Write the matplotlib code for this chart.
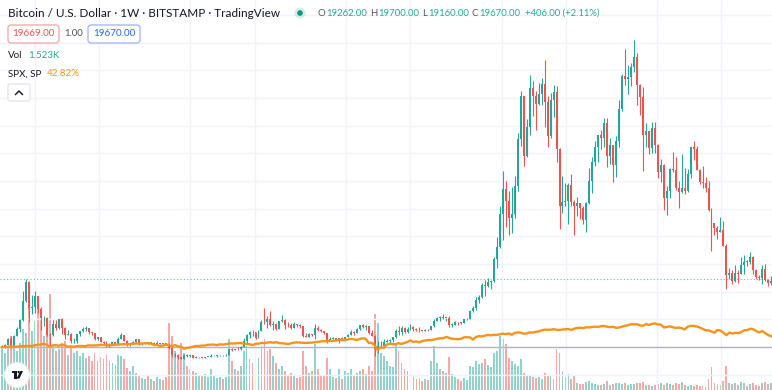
"""Weekly BTCUSD (Bitstamp) candles compared against SPX, TradingView style."""

import numpy as np
import matplotlib

matplotlib.use("Agg")
import matplotlib.pyplot as plt
import matplotlib.transforms as mtransforms
from matplotlib.lines import Line2D
from matplotlib.patches import Circle, FancyBboxPatch, Polygon

W, H = 772, 390

# weekly bars, first visible week starts Monday 2017-10-16
first_week = np.datetime64("2017-10-16")
first_open = 5680

closes = [
    5700, 6150, 7380, 5950, 8050, 9330, 11250, 15200, 19100, 13800,
    13880, 16180, 13600, 11600, 11750, 8200, 8100, 10400, 9600, 11450,
    9550, 8200, 8450, 6850, 7000, 8350, 8900, 9400, 9650, 8700,
    8500, 7350, 7700, 6750, 6450, 6150, 6350, 6700, 6350, 7400,
    8200, 7000, 6300, 6400, 6700, 7250, 6250, 6500, 6700, 6600,
    6600, 6300, 6400, 6450, 6400, 6350, 5550, 4000, 4150, 3600,
    3250, 3950, 3850, 4050, 3500, 3550, 3550, 3420, 3650, 3700,
    3800, 3800, 3950, 4000, 3980, 4100, 5200, 5050, 5300, 5200,
    5750, 7000, 8200, 8750, 8730, 7650, 8950, 10800, 10750, 11400,
    10200, 10500, 9500, 11000, 11300, 10300, 10150, 9600, 10400, 10300,
    10000, 8050, 7850, 8300, 8200, 9550, 9200, 9030, 8500, 6900,
    7400, 7500, 7100, 7500, 7400, 7750, 8150, 8700, 8600, 9350,
    10150, 9900, 9950, 8550, 8050, 5350, 5850, 5900, 6800, 6900,
    7100, 7700, 8900, 8750, 9700, 8700, 9450, 9750, 9350, 9300,
    9100, 9050, 9250, 9150, 9950, 11050, 11650, 11900, 11650, 11700,
    10250, 10300, 10900, 10750, 10650, 11400, 11500, 13050, 13750, 15450,
    15950, 18400, 18200, 19150, 19250, 23900, 26300, 33000, 38150, 35800,
    32300, 33100, 38900, 48600, 57400, 45150, 50950, 59000, 57400, 55800,
    57900, 59900, 56250, 49100, 56600, 58250, 46400, 34700, 35600, 35800,
    39100, 35500, 34700, 35300, 34250, 31800, 35400, 39850, 43800, 47000,
    49300, 48800, 51800, 45100, 47300, 43200, 48200, 54700, 61500, 60900,
    61300, 63300, 65500, 59700, 57300, 49400, 50100, 46700, 50800, 47300,
    41800, 43100, 36300, 37900, 42400, 42200, 38400, 37700, 38400, 37800,
    41300, 46800, 46400, 42200, 39700, 39450, 38500, 34000, 31300, 30300,
    29450, 29900, 26600, 20600, 21000, 19300, 20850, 20800, 22600, 23300,
    23200, 24300, 21500, 20050, 19850, 21800, 19400, 18900, 19300,
]
highs = [
    6190, 6300, 7500, 7880, 8100, 9750, 11400, 17200, 19666, 19200,
    16500, 17250, 16300, 14000, 12000, 11900, 8600, 11300, 11200, 11500,
    11700, 9900, 9150, 8500, 7500, 8400, 9050, 9750, 9950, 9700,
    8880, 8500, 7750, 7800, 6900, 6850, 6600, 6800, 6800, 7700,
    8500, 8250, 7150, 6600, 6900, 7300, 7400, 6600, 6800, 6750,
    6650, 6700, 6950, 6500, 6550, 6600, 6500, 5600, 4400, 4300,
    3600, 4300, 4250, 4100, 4100, 3750, 3650, 3570, 3700, 3720,
    4200, 3950, 3980, 4050, 4100, 4200, 5300, 5450, 5350, 5650,
    5900, 7600, 8350, 8950, 9100, 8800, 9300, 11300, 13800, 12000,
    13200, 11100, 10650, 11100, 12300, 11500, 10950, 10600, 10900, 10450,
    10350, 10050, 8550, 8650, 8400, 10500, 9950, 9500, 9050, 8500,
    7850, 7850, 7650, 7550, 7700, 7800, 8450, 9200, 8900, 9600,
    10200, 10500, 10250, 10000, 9200, 8150, 6900, 6950, 7300, 7450,
    7300, 7750, 9450, 10050, 9950, 9900, 9750, 10400, 9950, 9600,
    9800, 9300, 9450, 9350, 10000, 11400, 11900, 12050, 12450, 11750,
    12100, 10600, 11150, 10950, 10950, 11500, 11750, 13350, 14100, 15950,
    16500, 18800, 19400, 19900, 19400, 24300, 28400, 34800, 41950, 40000,
    37800, 38600, 40950, 49700, 58350, 57500, 52650, 61800, 60600, 58400,
    60100, 61200, 64850, 57500, 58000, 59600, 59550, 46700, 40900, 39500,
    39500, 41300, 36000, 36600, 35300, 34650, 35500, 42600, 44800, 48100,
    49400, 50500, 52900, 52950, 48800, 47400, 49200, 56500, 62000, 67000,
    63700, 64200, 69000, 66300, 59800, 59200, 51900, 50150, 52000, 52100,
    47500, 44400, 43500, 38900, 42600, 45800, 44750, 40000, 45400, 42600,
    42300, 46900, 48200, 47200, 42400, 42900, 40800, 40000, 34300, 31300,
    30600, 32400, 31600, 26900, 22000, 21500, 22500, 21600, 24300, 24700,
    23700, 25200, 24500, 21800, 20600, 22500, 22800, 19700, 20400,
]
lows = [
    5500, 5460, 6050, 5500, 5850, 7900, 8800, 11100, 15000, 10900,
    12500, 12750, 12800, 9200, 10000, 7900, 6000, 8000, 9300, 9400,
    8400, 7300, 8200, 6450, 6550, 6600, 7900, 8700, 8950, 8350,
    8100, 7100, 7050, 6650, 6100, 5800, 5800, 6300, 6050, 6300,
    7400, 6900, 6000, 5900, 6300, 6650, 6200, 6150, 6250, 6400,
    6500, 6150, 6300, 6350, 6250, 6300, 5200, 3550, 3700, 3300,
    3200, 3200, 3550, 3700, 3450, 3450, 3450, 3350, 3350, 3550,
    3700, 3750, 3700, 3850, 3900, 3900, 4100, 4950, 5000, 5050,
    5150, 5600, 6400, 7500, 7950, 7450, 7550, 8950, 10350, 9650,
    10100, 9100, 9150, 9450, 10900, 9500, 9800, 9400, 9600, 9900,
    9600, 7750, 7750, 7800, 7950, 7300, 9000, 8700, 8400, 6550,
    6850, 7250, 7050, 6450, 7050, 6850, 7700, 8100, 8250, 8550,
    9150, 9700, 9300, 8450, 8000, 3850, 4450, 5700, 5880, 6750,
    6450, 6800, 7650, 8100, 8250, 8650, 8650, 9300, 8950, 9050,
    8850, 8900, 9050, 9000, 9100, 9900, 11000, 11150, 11400, 11100,
    9900, 9850, 10250, 10150, 10400, 10550, 11200, 11400, 12900, 13250,
    14850, 15800, 16200, 18000, 17600, 19000, 21900, 26000, 27700, 30400,
    28800, 29200, 32300, 37900, 47100, 43000, 44900, 49300, 53250, 50400,
    55500, 55500, 51000, 47000, 48800, 53000, 43800, 30000, 33400, 34800,
    31000, 34800, 28800, 32700, 32100, 31100, 29300, 35200, 37500, 43000,
    43900, 46400, 46800, 42800, 43400, 39600, 40800, 46900, 54400, 59600,
    57800, 59500, 62300, 55600, 53500, 42000, 46900, 45500, 45600, 45700,
    40600, 39650, 34000, 32900, 36300, 41700, 38000, 34300, 37500, 37200,
    37600, 40500, 44200, 42100, 39200, 38500, 37700, 33700, 25400, 28700,
    28000, 29300, 26500, 17600, 19800, 18600, 19000, 18900, 20700, 20700,
    22400, 22700, 20800, 19800, 19600, 18600, 19300, 18200, 18500,
]
# weekly volume, thousand BTC
volumes_k = [
    84, 76, 90, 110, 100, 80, 96, 124, 116,
    174, 120, 140, 166, 144, 110, 140, 194, 90, 80,
    84, 96, 100, 72, 90, 76, 80, 70, 76, 66,
    70, 60, 76, 60, 68, 64, 72, 60, 56, 52,
    72, 70, 64, 46, 40, 50, 36, 30, 26, 24,
    30, 24, 20, 28, 24, 22, 28, 136, 110, 80,
    70, 96, 76, 50, 44, 40, 36, 30, 32, 34,
    28, 44, 30, 26, 28, 24, 28, 104, 60, 44,
    40, 50, 80, 90, 64, 56, 60, 66, 90, 104,
    80, 84, 70, 56, 44, 50, 40, 32, 36, 30,
    26, 28, 80, 50, 36, 40, 94, 44, 30, 32,
    66, 44, 28, 26, 44, 24, 40, 36, 44, 30,
    36, 40, 44, 34, 50, 40, 154, 136, 76, 70,
    60, 50, 48, 96, 80, 56, 44, 40, 36, 28,
    24, 26, 20, 24, 22, 60, 90, 56, 44, 40,
    36, 68, 34, 28, 24, 20, 26, 22, 50, 48,
    60, 54, 56, 64, 52, 48, 76, 80, 110, 104,
    94, 66, 60, 54, 50, 64, 36, 32, 30, 28,
    26, 28, 24, 36, 32, 30, 24, 84, 76, 40,
    28, 34, 24, 30, 16, 14, 14, 18, 20, 16,
    14, 12, 12, 14, 20, 12, 14, 16, 16, 14,
    16, 12, 14, 14, 16, 16, 18, 12, 12, 10,
    12, 14, 16, 12, 16, 14, 12, 16, 14, 18,
    12, 10, 12, 10, 12, 10, 10, 8, 24, 48,
    16, 12, 12, 20, 50, 16, 14, 16, 12, 18,
    16, 10, 14, 16, 12, 10, 16, 18, 14, 16,
]
# SPX weekly closes for the same weeks
spx_closes = [
    2575, 2581, 2588, 2582, 2579, 2602, 2642, 2652, 2675, 2683,
    2674, 2743, 2786, 2810, 2873, 2762, 2620, 2732, 2747, 2691,
    2786, 2752, 2588, 2641, 2604, 2656, 2670, 2670, 2663, 2728,
    2713, 2721, 2735, 2779, 2780, 2755, 2718, 2760, 2801, 2802,
    2819, 2840, 2833, 2850, 2875, 2902, 2872, 2905, 2930, 2914,
    2886, 2767, 2768, 2658, 2723, 2781, 2736, 2633, 2760, 2633,
    2600, 2417, 2486, 2532, 2596, 2671, 2665, 2707, 2708, 2776,
    2793, 2804, 2743, 2822, 2801, 2834, 2893, 2907, 2905, 2940,
    2946, 2881, 2860, 2826, 2752, 2873, 2887, 2950, 2942, 2990,
    3014, 2976, 3026, 2932, 2919, 2889, 2847, 2926, 2979, 3007,
    2992, 2962, 2952, 2970, 2986, 3023, 3067, 3093, 3120, 3110,
    3141, 3146, 3169, 3221, 3240, 3235, 3265, 3330, 3295, 3226,
    3328, 3380, 3338, 2954, 2972, 2711, 2305, 2541, 2489, 2790,
    2875, 2837, 2831, 2930, 2864, 2955, 3044, 3194, 3041, 3098,
    3009, 3130, 3185, 3225, 3216, 3271, 3351, 3373, 3397, 3508,
    3427, 3341, 3319, 3298, 3348, 3477, 3484, 3465, 3270, 3509,
    3585, 3558, 3638, 3699, 3663, 3709, 3703, 3756, 3825, 3768,
    3841, 3714, 3887, 3934, 3907, 3811, 3842, 3943, 3913, 3975,
    4020, 4129, 4185, 4180, 4181, 4233, 4174, 4156, 4204, 4230,
    4247, 4166, 4281, 4352, 4370, 4327, 4412, 4395, 4437, 4468,
    4442, 4509, 4535, 4459, 4433, 4455, 4357, 4391, 4471, 4545,
    4605, 4697, 4683, 4698, 4595, 4538, 4712, 4621, 4726, 4766,
    4677, 4663, 4398, 4432, 4501, 4419, 4349, 4385, 4329, 4204,
    4463, 4543, 4546, 4488, 4393, 4272, 4132, 4123, 4024, 3901,
    4158, 4109, 3901, 3675, 3912, 3825, 3899, 3863, 3962, 4130,
    4145, 4280, 4228, 4058, 3924, 4067, 3873, 3693, 3586,
]
grid_dates = [
    "2018-01-01", "2018-06-01", "2019-01-01", "2019-06-01", "2020-01-01",
    "2020-06-01", "2021-01-01", "2021-06-01", "2022-01-01", "2022-06-01",
]

# legend values of the live bar
symbol_title = "Bitcoin / U.S. Dollar \u00b7 1W \u00b7 BITSTAMP \u00b7 TradingView"
ohlc_labels = ["O", "H", "L", "C"]
ohlc_values = ["19262.00", "19700.00", "19160.00", "19670.00"]
change_text = "+406.00 (+2.11%)"
bid, spread, ask = "19669.00", "1.00", "19670.00"
last_price = 19670
vol_text = "1.523K"
spx_text = "42.82%"

UP, DOWN = "#26a69a", "#ef5350"
ORANGE = "#f7931a"
TEXT = "#131722"
GRID = "#f0f3fa"

plt.rcParams["font.family"] = ["Lato", "DejaVu Sans"]


def fig_xy(x, y):
    """Pixel position (top-left origin) to figure fraction."""
    return x / W, 1 - y / H


def render(path="out.png"):
    c = np.asarray(closes, float)
    h = np.asarray(highs, float)
    lo = np.asarray(lows, float)
    o = np.r_[first_open, c[:-1]]  # weekly bars open at the previous close
    base = c[0]

    def pct(p):
        return (np.asarray(p, float) / base - 1) * 100

    x = np.arange(len(c))
    up = c >= o
    colors = np.where(up, UP, DOWN)

    fig = plt.figure(figsize=(W / 100, H / 100), dpi=100)
    fig.patch.set_facecolor("white")
    vol_ax = fig.add_axes([0, 0, 1, 1])
    ax = fig.add_axes([0, 0, 1, 1])
    ax.set_facecolor("none")
    for a in (vol_ax, ax):
        a.set_xlim(-0.73, 258.3)
        a.axis("off")
    ax.set_ylim(-155.4, 1254.1)
    vol_ax.set_ylim(2, 782)

    # grid on the bottom layer, in price-percent units
    h_tr = mtransforms.blended_transform_factory(vol_ax.transAxes, ax.transData)
    for k in range(-1, 13):
        vol_ax.plot([0, 1], [k * 100, k * 100], color=GRID, lw=1, transform=h_tr)
    week_pos = [
        (np.datetime64(d) - first_week) / np.timedelta64(7, "D") for d in grid_dates
    ]
    for wp in week_pos:
        vol_ax.axvline(wp, color=GRID, lw=1)

    vol_colors = np.where(up, "#26a69a80", "#ef535080")
    vol_ax.bar(x, volumes_k, width=0.62, color=vol_colors, linewidth=0)

    ax.axhline(0, color="#b2b5be", lw=1, zorder=1)
    ax.axhline(pct(last_price), color=UP, lw=0.8, ls=(0, (1, 2)), alpha=0.7, zorder=1)

    spx = np.asarray(spx_closes, float)
    ax.plot(x, (spx / spx[0] - 1) * 100, color=ORANGE, lw=1.7, zorder=3,
            solid_joinstyle="round")

    ax.vlines(x, pct(lo), pct(h), colors=colors, lw=0.8, zorder=2)
    body_lo = pct(np.minimum(o, c))
    body_h = np.maximum(pct(np.maximum(o, c)) - body_lo, 2.5)
    ax.bar(x, body_h, bottom=body_lo, width=0.66, color=colors, linewidth=0,
           zorder=2)

    # ---- legend block ----
    fig.text(*fig_xy(8, 13.5), symbol_title, color=TEXT, fontsize=8.5, va="center")
    px = mtransforms.IdentityTransform()
    fig.add_artist(Circle((300, H - 13), 5.5, transform=px, color="#26a69a",
                          alpha=0.18, lw=0))
    fig.add_artist(Circle((300, H - 13), 2.8, transform=px, color="#089981", lw=0))

    fs = 6.9
    label_x = [317.5, 370.5, 422.5, 472]
    value_x = [326, 378, 428.5, 479]
    for lx, vx, lab, val in zip(label_x, value_x, ohlc_labels, ohlc_values):
        fig.text(*fig_xy(lx, 13.5), lab, color="#50535e", fontsize=fs, va="center")
        fig.text(*fig_xy(vx, 13.5), val, color=UP, fontsize=fs, va="center")
    fig.text(*fig_xy(525, 13.5), change_text, color=UP, fontsize=6.8, va="center")

    for bx, bw, col, ec, txt in [
        (8, 51, DOWN, "#f5a3a1", bid),
        (88, 52, "#2962ff", "#9db2fa", ask),
    ]:
        fig.add_artist(FancyBboxPatch((bx, H - 43), bw, 18, transform=px,
                                      boxstyle="round,pad=0,rounding_size=3",
                                      fc="white", ec=ec, lw=0.9))
        fig.text(*fig_xy(bx + bw / 2, 34), txt, color=col, fontsize=7.1,
                 ha="center", va="center")
    fig.text(*fig_xy(74, 34), spread, color="#50535e", fontsize=6.8,
             ha="center", va="center")

    fs2 = 7.0
    fig.text(*fig_xy(8, 55.5), "Vol", color=TEXT, fontsize=fs2, va="center")
    fig.text(*fig_xy(28, 55.5), vol_text, color=UP, fontsize=fs2, va="center")
    fig.text(*fig_xy(8, 74), "SPX, SP", color=TEXT, fontsize=fs2, va="center")
    fig.text(*fig_xy(47, 74), spx_text, color=ORANGE, fontsize=fs2, va="center")

    fig.add_artist(FancyBboxPatch((8, H - 101), 22, 17, transform=px,
                                  boxstyle="round,pad=0,rounding_size=2",
                                  fc="white", ec="#e0e3eb", lw=0.9))
    fig.add_artist(Line2D([15.5, 19, 22.5], [H - 94.5, H - 91, H - 94.5],
                          transform=px, color=TEXT, lw=1.0))

    # TradingView badge: white disc with the "T" + dot + slash mark
    cx, cy = 17, H - 375
    fig.add_artist(Circle((cx, cy), 12.5, transform=px, fc="white",
                          ec="#ececec", lw=0.8))
    mark = [
        [(cx - 5.5, cy + 4), (cx, cy + 4), (cx, cy + 1.6), (cx - 5.5, cy + 1.6)],
        [(cx - 2.6, cy + 4), (cx - 0.2, cy + 4), (cx - 0.2, cy - 3.6),
         (cx - 2.6, cy - 3.6)],
        [(cx + 3.2, cy + 4), (cx + 6, cy + 4), (cx + 2.4, cy - 3.6),
         (cx - 0.4, cy - 3.6)],
    ]
    for pts in mark:
        fig.add_artist(Polygon(pts, closed=True, transform=px, fc=TEXT, lw=0))
    fig.add_artist(Circle((cx + 1.6, cy + 2.9), 1.2, transform=px, fc=TEXT, lw=0))

    fig.savefig(path, dpi=100, facecolor="white")
    plt.close(fig)


if __name__ == "__main__":
    render()
